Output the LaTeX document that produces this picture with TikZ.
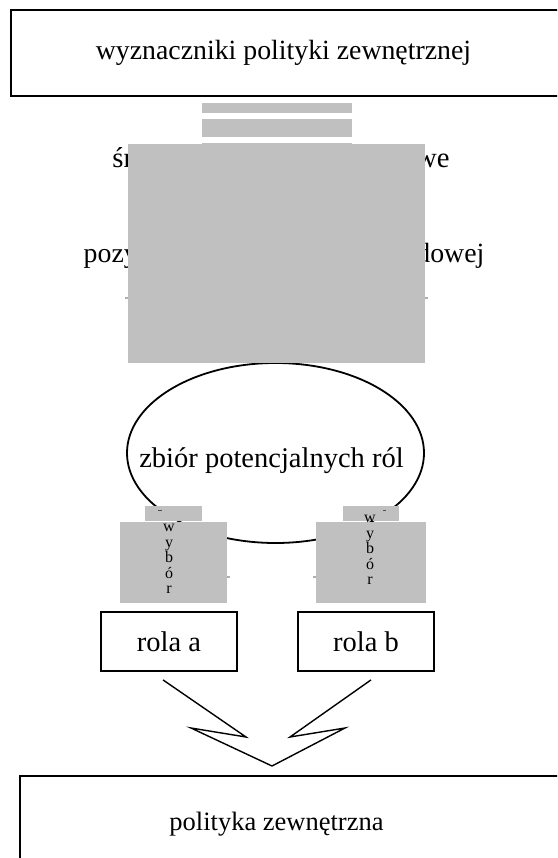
\documentclass[tikz,border=0pt]{standalone}
\usepackage{fontspec}
\setmainfont{Liberation Serif}
\usetikzlibrary{shapes.geometric,calc}
\definecolor{silverg}{RGB}{192,192,192}
\definecolor{stubg}{RGB}{175,175,175}
\begin{document}
\begin{tikzpicture}[x=1pt,y=-1pt,
  frame/.style={draw=black, line width=1.8pt},
  txt/.style={inner sep=0pt, font=\fontsize{27.8}{32}\selectfont},
  bigtxt/.style={inner sep=0pt, font=\fontsize{28.5}{32}\selectfont},
  cover/.style={fill=silverg, draw=none},
  stub/.style={draw=stubg, line width=1.2pt},
  vert/.style={inner sep=0pt, align=center, font=\fontsize{16}{15.5}\selectfont},
  zig/.style={draw=black, line width=1.4pt, line join=miter},
  tick/.style={draw=black!70, line width=0.8pt}]
\useasboundingbox (0,0) rectangle (557,858);
\clip (0,0) rectangle (557,858);

% top box
\node[frame, anchor=north west, minimum width=600pt, minimum height=86pt, inner sep=0pt] (topbox) at (10,9) {};
\node[txt, anchor=base] (wyz) at (283.5,59.5) {wyznaczniki polityki zewnętrznej};

% middle texts (partly covered)
\node[txt, font=\fontsize{28.7}{32}\selectfont, anchor=base] (env) at (281,168) {środowisko międzynarodowe};
\node[txt, anchor=base] (pos) at (284,263) {pozycja na arenie międzynarodowej};
\draw[stub] (125,298) -- (428,298);

% gray covers
\fill[cover] (202,103) rectangle (352,113);
\fill[cover] (202,119) rectangle (352,137);
\fill[cover] (202,143) rectangle (352,150);

% ellipse
\node[draw, ellipse, line width=1.8pt, minimum width=297pt, minimum height=180pt, inner sep=0pt] (pool) at (275.5,453) {};
\node[bigtxt, anchor=base] (pooltxt) at (271.5,467) {zbiór potencjalnych ról};
\fill[cover] (128,144) rectangle (425,363);

% choice a
\draw[stub] (225,577) -- (230,577);
\fill[cover] (145,506) rectangle (202,510.6);
\fill[cover] (145,511.4) rectangle (202,521);
\fill[cover] (120,522) rectangle (227,603);
\node[vert, anchor=north] (wa) at (169,524) {w\\y\\b\\ó\\r};
\draw[tick] (158,510.5) -- (162,510.5);

% choice b
\draw[stub] (313,577) -- (318,577);
\fill[cover] (343,506) rectangle (399,510.6);
\fill[cover] (343,511.4) rectangle (399,521);
\fill[cover] (316,522) rectangle (426,603);
\node[vert, anchor=north] (wb) at (370,515) {w\\y\\b\\ó\\r};
\draw[tick] (383,510.5) -- (386,510.5);

% roles
\node[frame, bigtxt, minimum width=136pt, minimum height=59pt] (ra) at (169,641.5) {rola a};
\node[frame, bigtxt, minimum width=136pt, minimum height=59pt] (rb) at (366,641.5) {rola b};

% zigzag arrows
\coordinate (tip) at (272,766);
\draw[zig] ($(ra.south)+(-6,8)$) -- (246,737) -- (191,728) -- (tip);
\draw[zig] ($(rb.south)+(5,8)$) -- (290,737) -- (345,728) -- (tip);

% bottom box
\node[frame, anchor=north west, minimum width=600pt, minimum height=120pt, inner sep=0pt] (botbox) at (19,775) {};
\node[inner sep=0pt, font=\fontsize{26.5}{30}\selectfont, anchor=base] (pol) at (276.5,830) {polityka zewnętrzna};
\end{tikzpicture}
\end{document}
